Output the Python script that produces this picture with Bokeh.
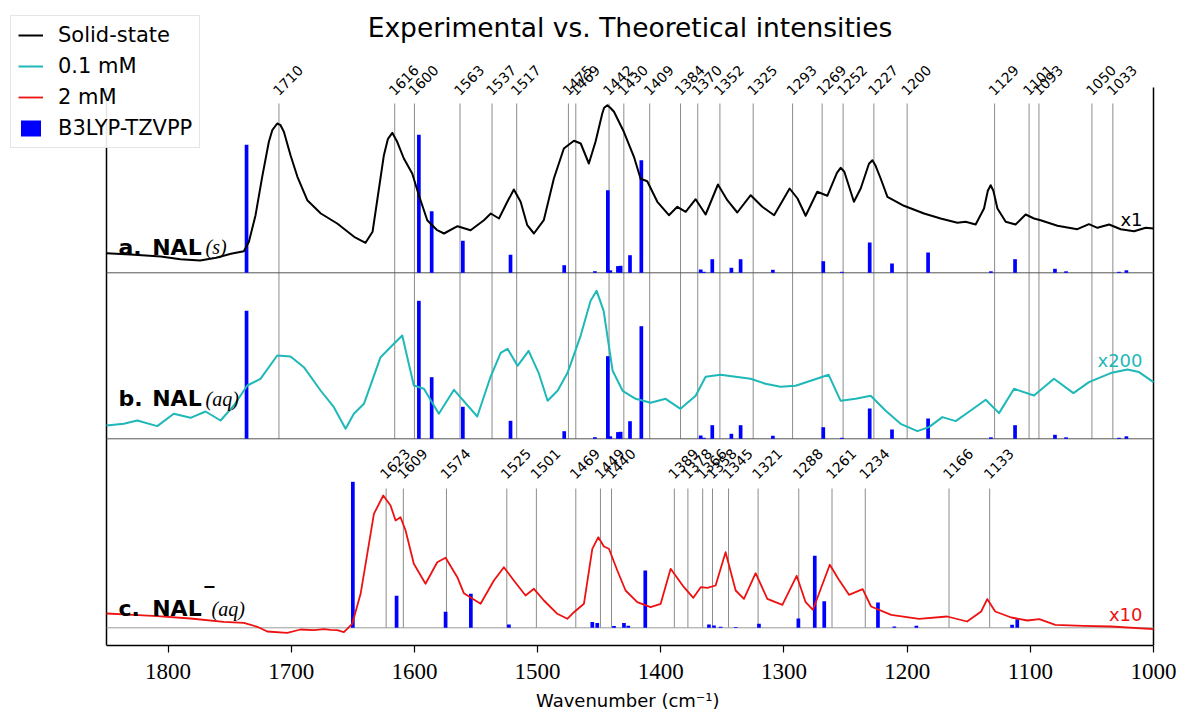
import numpy as np
from bokeh.plotting import figure
from bokeh.models import (Range1d, FixedTicker, Label, LabelSet,
                          ColumnDataSource, Legend, LegendItem)
from bokeh.core.properties import value
from bokeh.embed import file_html
from bokeh.resources import INLINE

# ---------------- data ----------------
# a. solid state spectrum (wavenumber, relative intensity)
solid_wn = [1850, 1830.5, 1806, 1790, 1774, 1761, 1749, 1738.5, 1734.4, 1729, 1723.6, 1718.2,
            1715.4, 1711.4, 1708.7, 1706, 1700.6, 1695, 1687, 1676, 1662.7, 1649, 1639.7, 1634,
            1630, 1624.8, 1621.5, 1618, 1614, 1608.6, 1601.8, 1596.4, 1589.6, 1581.5, 1576, 1565,
            1554.4, 1543.6, 1538, 1531.4, 1524.6, 1519.3, 1513.8, 1508.4, 1503, 1495, 1486.8,
            1478.7, 1470.5, 1465, 1458.4, 1453, 1447.5, 1446, 1443.4, 1441, 1438, 1430, 1421.8,
            1416.4, 1411, 1402.8, 1393.4, 1386.6, 1379.8, 1371.7, 1363.6, 1353.6, 1346, 1337.9,
            1327, 1317.6, 1308, 1295.4, 1289, 1282.4, 1273, 1264.8, 1257, 1254, 1251, 1243.2,
            1237.7, 1231, 1228.2, 1225.6, 1221.5, 1216, 1202.6, 1186.3, 1172.8, 1159.2, 1152.5,
            1144.4, 1137.6, 1134.5, 1132.2, 1130, 1126.7, 1120, 1112, 1103.8, 1097, 1091.6, 1078,
            1061.8, 1052.4, 1045.5, 1036, 1026.6, 1015.8, 1006.3, 1000]
solid_int = [19.6, 18.3, 16.3, 13.6, 12.3, 15, 19, 21.6, 31, 57.6, 96, 131,
             142.6, 149.3, 147.6, 141, 117.6, 96, 72.6, 59.3, 49.3, 36, 30, 41,
             74.3, 117.6, 134, 140, 131, 114.3, 99.3, 77.6, 52.6, 42.6, 39.3, 46.6,
             42.6, 52.6, 59.3, 54.3, 71, 83.3, 71, 47.6, 39.3, 52.6, 94.3,
             124.3, 132, 129.3, 109.3, 131, 159.3, 165, 167.6, 165, 161, 141, 116,
             94, 91.6, 71, 57.6, 66, 61, 73.6, 58.3, 88.3, 72.6, 60.3,
             77.6, 66, 57.6, 84.3, 74.3, 57, 81, 77, 100, 105, 101, 71,
             84.3, 109, 112.6, 107, 94.3, 76, 67, 59.3, 54.3, 50, 51,
             48.3, 64.3, 82, 87.6, 82, 64.3, 51, 48.3, 58.3, 54.3, 52.6, 47,
             43.6, 48.6, 45, 48.3, 43.6, 41.6, 45, 44.3]

# b. 0.1 mM aqueous spectrum (x200)
aq01_wn = [1850, 1836, 1825, 1808.8, 1795.4, 1781.8, 1769.6, 1757.4, 1746.6, 1735.7, 1725,
           1711.4, 1700.6, 1689.8, 1676.2, 1665.4, 1655.9, 1649.2, 1641, 1627.5, 1616.7,
           1609.9, 1600.5, 1592.3, 1580.2, 1567.9, 1549, 1538.2, 1530, 1524.4, 1516.3, 1507.3,
           1499.2, 1491.9, 1483.8, 1475.7, 1465.1, 1457, 1452.1, 1446.4, 1439.1, 1431, 1420.4,
           1408.3, 1396.1, 1384, 1371.7, 1363.6, 1351.5, 1339.3, 1327.1, 1315, 1302.8, 1290.6,
           1278.3, 1263.7, 1254, 1241.8, 1229.6, 1217.4, 1205.3, 1191.7, 1182.3, 1171.4,
           1160.6, 1148.4, 1136.2, 1125.4, 1113.2, 1097, 1080.8, 1065, 1052.4, 1034.7, 1021.2,
           1011.8, 1000]
aq01_int = [13.3, 15, 18.3, 12.7, 25, 21, 27.3, 18.3, 33.3, 53.3, 60,
            83.3, 82.3, 71.6, 48.3, 31.6, 10, 25, 35, 81.6, 95,
            103.3, 53.3, 50, 25, 49, 22.3, 62, 86, 90, 73, 88,
            66, 38, 48, 66, 103, 138, 148, 128, 68, 48, 40,
            36, 40, 30, 43, 62, 64, 62, 60, 55, 52, 53,
            58, 64, 38, 40, 43, 28, 15, 7.7, 11.7, 21.7,
            17.7, 28.3, 39, 25.7, 50, 43.3, 60, 45.7, 56.7, 65.7, 69.3,
            66.7, 56.7]

# c. 2 mM aqueous spectrum (x10)
aq2_wn = [1850, 1836, 1808.8, 1781.8, 1754.8, 1738.5, 1727.6, 1719.5, 1703.3, 1692.5, 1681.7,
          1673.5, 1668, 1662.7, 1657.3, 1650.5, 1643.7, 1638.3, 1632.9, 1625.3, 1619.4,
          1615.3, 1611.3, 1607.2, 1600.5, 1591, 1581.5, 1574.7, 1565.2, 1559.9, 1546.3,
          1535.5, 1527.4, 1519.3, 1509.8, 1503, 1494.9, 1484, 1475.9, 1470.5, 1462.4,
          1455.6, 1450.7, 1446.2, 1442.1, 1435.3, 1428.6, 1419.1, 1408.3, 1400.1, 1392,
          1381.2, 1373.6, 1367.6, 1362.2, 1355.5, 1347.4, 1339.2, 1332.5, 1323, 1313.5,
          1301.3, 1289.7, 1282.4, 1276.5, 1262.8, 1255.4, 1247.2, 1236.1, 1229.3, 1213,
          1190.3, 1167.5, 1151.3, 1139.9, 1135, 1128.5, 1115.5, 1102.4, 1092.7, 1079.7,
          1057, 1034.2, 1000]
aq2_int = [14.3, 13.4, 11.7, 9.3, 6, 5, 1, -3.7, -5, -1.7, -2.3,
           -1.3, -2, -2.3, -4.3, 4, 34, 74, 114, 132.3, 122.3,
           107.3, 110.6, 97.3, 64, 44, 65.6, 70, 50.6, 34.6, 24,
           47.3, 60.6, 47.3, 32.3, 39, 27.3, 14, 9, 15.6, 24,
           79, 90.6, 81.3, 79, 57.3, 37.3, 25.6, 20.6, 24, 59,
           40.6, 30, 40.6, 40, 42.3, 75.6, 37.3, 29, 54.6, 29,
           23, 52, 25.6, 18, 63, 48, 33, 38.7, 21.3, 13,
           9, 11.3, 6.3, 16.3, 28.7, 16.3, 10.3, 7.3, 8.7, 3,
           2, 1.3, -1.3]

# B3LYP-TZVPP computed lines, neutral NAL (panels a, b)
calc_n_wn = [1736.3, 1596.4, 1586, 1560.7, 1522, 1478.4, 1453.5, 1443, 1441, 1434.8, 1432.6,
             1425, 1415.8, 1367.6, 1365, 1358.2, 1342.7, 1335.2, 1309, 1268.1, 1253, 1230.4,
             1212.3, 1183, 1132, 1112.4, 1080, 1071, 1028, 1022]
calc_n_int = [128, 138, 61.6, 32, 18, 7.6, 1.6, 82.6, 2.5, 6.7, 7,
              17.6, 112.6, 3.3, 1, 13.6, 5, 13.6, 3, 11.6, 1, 30.3,
              9.3, 20.3, 1.5, 13.6, 4, 1.5, 1, 2.5]

# B3LYP-TZVPP computed lines, anion NAL- (panel c)
calc_a_wn = [1650, 1614.5, 1574.7, 1554.2, 1523.3, 1455.6, 1451.6, 1438, 1429.9, 1426.4, 1412.6,
             1360.9, 1356.8, 1351.4, 1339.2, 1320.3, 1288.3, 1275, 1267.3, 1223.7, 1210.4,
             1192.5, 1114.8, 1110.6]
calc_a_int = [146, 32, 16, 34, 3.3, 5.7, 4.7, 1.7, 4.7, 2, 57.3,
              3.3, 2.3, 1, 0.7, 4, 9.3, 72, 26.6, 25.3, 1.3,
              2, 3, 8.5]

# assigned experimental peaks
peaks_ab = [1710, 1616, 1600, 1563, 1537, 1517, 1475, 1469, 1442, 1430, 1409, 1384, 1370,
            1352, 1325, 1293, 1269, 1252, 1227, 1200, 1129, 1101, 1093, 1050, 1033]
peaks_c = [1623, 1609, 1574, 1525, 1501, 1469, 1449, 1440, 1389, 1378, 1366, 1358, 1345,
           1321, 1288, 1261, 1234, 1166, 1133]

x_ticks = [1800, 1700, 1600, 1500, 1400, 1300, 1200, 1100, 1000]

# ---------------- layout constants ----------------
W, H = 1179, 717
AX_L, AX_R, AX_T, AX_B = 106, 1153, 87, 645      # axes box in page pixels
X0, X1 = 1850, 1000
XS = (AX_R - AX_L) / (X0 - X1)                   # px per cm-1
BASE_A, BASE_B, BASE_C = 372.7, 206.7, 17.7
TOP_AB, TOP_C = 542.0, 157.0
LBL_AB, LBL_C = 549.0, 165.5
TOP = AX_B - AX_T


def px2w(px):
    return X0 - (px - AX_L) / XS


def py2y(py):
    return AX_B - py


p = figure(frame_width=W, frame_height=AX_B, x_range=Range1d(px2w(0), px2w(W)),
           y_range=Range1d(0, AX_B), output_backend="svg", toolbar_location=None,
           y_axis_location=None, min_border_left=0, min_border_right=0, min_border_top=0,
           min_border_bottom=H - AX_B)
p.outline_line_color = None
p.grid.visible = False
p.background_fill_color = "white"
p.border_fill_color = "white"

xa = p.xaxis[0]
xa.ticker = FixedTicker(ticks=x_ticks)
xa.bounds = (X1, X0)
xa.major_tick_out = 7
xa.major_tick_in = 0
xa.minor_tick_line_color = None
xa.axis_line_width = 1.5
xa.major_tick_line_width = 1.2
xa.major_label_text_font = "Liberation Serif"
xa.major_label_text_font_size = "23px"
xa.major_label_text_color = "black"
xa.major_label_standoff = 11
# leading em-spaces centre the label under the axes box rather than the whole canvas
xa.axis_label = "\u2003\u2003\u2003\u2003\u2009Wavenumber (cm\u207b\u00b9)"
xa.axis_label_text_font = "DejaVu Sans"
xa.axis_label_text_font_style = "normal"
xa.axis_label_text_font_size = "18px"
xa.axis_label_text_color = "black"
xa.axis_label_standoff = 8

# left / right spines
p.segment(x0=[X0, X1], y0=[0, 0], x1=[X0, X1], y1=[TOP, TOP], line_color="black", line_width=1.5)

# vertical peak lines
p.segment(x0=peaks_ab, y0=BASE_B, x1=peaks_ab, y1=TOP_AB, line_color="#8c8c8c", line_width=1)
p.segment(x0=peaks_c, y0=BASE_C, x1=peaks_c, y1=TOP_C, line_color="#8c8c8c", line_width=1)

# panel baselines
p.segment(x0=[X0, X0, X0], y0=[BASE_A, BASE_B, BASE_C], x1=[X1, X1, X1],
          y1=[BASE_A, BASE_B, BASE_C], line_color=["#555555", "#555555", "#9a9a9a"], line_width=1)

# computed bars
cn = np.array(calc_n_int)
ca = np.array(calc_a_int)
bar_w = 3.0
rbar = p.vbar(x=calc_n_wn, bottom=BASE_A, top=BASE_A + cn, width=bar_w, fill_color="#0000ff",
              line_color=None)
p.vbar(x=calc_n_wn, bottom=BASE_B, top=BASE_B + cn, width=bar_w, fill_color="#0000ff", line_color=None)
p.vbar(x=calc_a_wn, bottom=BASE_C, top=BASE_C + ca, width=bar_w, fill_color="#0000ff", line_color=None)

# spectra
CYAN, RED = "#1fb8b8", "#ee1111"
ra = p.line(solid_wn, np.array(solid_int) + BASE_A, line_color="black", line_width=2,
            line_join="round")
rb = p.line(aq01_wn, np.array(aq01_int) + BASE_B, line_color=CYAN, line_width=2, line_join="round")
rc = p.line(aq2_wn, np.array(aq2_int) + BASE_C, line_color=RED, line_width=1.8, line_join="round")

# peak labels
for pk, yl in ((peaks_ab, LBL_AB), (peaks_c, LBL_C)):
    src = ColumnDataSource(dict(x=pk, y=[yl] * len(pk), t=[str(v) for v in pk]))
    p.add_layout(LabelSet(x="x", y="y", text="t", source=src, angle=np.pi / 4,
                          text_align="left", text_baseline="bottom",
                          text_font=value("DejaVu Sans"), text_font_size=value("14px"),
                          text_color="black"))

# title
p.add_layout(Label(x=(X0 + X1) / 2, y=py2y(27), text="Experimental vs. Theoretical intensities",
                   text_align="center", text_baseline="middle", text_font="DejaVu Sans",
                   text_font_size="26.5px", text_color="black"))


# panel names
def panel_name(letter, base_px, sub, sup=False):
    yb = py2y(base_px)
    p.add_layout(Label(x=px2w(118), y=yb, text=letter, text_font="DejaVu Sans",
                       text_font_style="bold", text_font_size="22px", text_baseline="alphabetic",
                       text_color="black"))
    p.add_layout(Label(x=px2w(151.7), y=yb, text="NAL", text_font="DejaVu Sans",
                       text_font_style="bold", text_font_size="22px", text_baseline="alphabetic",
                       text_color="black"))
    sx = 205
    if sup:
        p.add_layout(Label(x=px2w(202), y=py2y(585), text="\u2212", text_font="DejaVu Sans",
                           text_font_style="bold", text_font_size="16px", text_baseline="middle",
                           text_color="black"))
        sx = 211
    p.add_layout(Label(x=px2w(sx), y=yb, text=sub, text_font="Liberation Serif",
                       text_font_style="italic", text_font_size="20px", text_baseline="middle",
                       text_color="black"))


panel_name("a.", 246.7, "(s)")
panel_name("b.", 398.3, "(aq)")
panel_name("c.", 608.3, "(aq)", sup=True)

# scale factors
for txt, ypx, col in (("x1", 219, "black"), ("x200", 360, CYAN), ("x10", 614, RED)):
    p.add_layout(Label(x=px2w(1142), y=py2y(ypx), text=txt, text_align="right",
                       text_baseline="alphabetic", text_font="DejaVu Sans",
                       text_font_size="18px", text_color=col))

legend = Legend(items=[LegendItem(label="Solid-state", renderers=[ra]),
                       LegendItem(label="0.1 mM", renderers=[rb]),
                       LegendItem(label="2 mM", renderers=[rc]),
                       LegendItem(label="B3LYP-TZVPP", renderers=[rbar])],
                location=(10, AX_B - 148), label_text_font="DejaVu Sans",
                label_text_font_size="21px", label_text_color="black",
                glyph_width=25, glyph_height=20, label_standoff=15, spacing=7, padding=7,
                margin=0, label_height=24, border_line_color="#cccccc", border_line_width=1.5,
                background_fill_alpha=0.9)
p.add_layout(legend)

open("out.html", "w").write(file_html(p, INLINE))
